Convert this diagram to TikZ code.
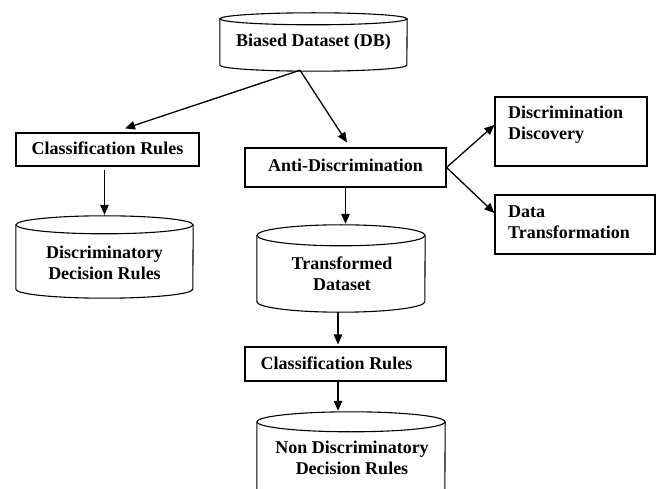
\documentclass[tikz,border=0pt]{standalone}
\usepackage{fontspec}
\setmainfont{Liberation Serif}
\usetikzlibrary{arrows.meta}
\tikzset{
  x=1pt,y=1pt,
  shapeline/.style={draw=black,line width=1.1pt},
  boxnode/.style={shapeline,rectangle,inner sep=0pt,font=\bfseries\fontsize{18}{20.5}\selectfont},
  cylnode/.style={rectangle,draw=none,inner sep=0pt},
  txt/.style={inner sep=0pt,font=\bfseries\fontsize{18}{20.5}\selectfont},
  arr/.style={draw=black,line width=1.3pt,-{Triangle[length=10pt,width=8.5pt]}}
}
\newcommand\drawcyl[3]{%
  \draw[shapeline,fill=white] ([yshift=-#3]#1.north west) -- ([yshift=#3]#1.south west)
    arc[start angle=180,end angle=360,x radius=#2,y radius=#3]
    -- ([yshift=-#3]#1.north east);
  \draw[shapeline] ([yshift=-#3]#1.north) ellipse[x radius=#2,y radius=#3];
}
\begin{document}
\begin{tikzpicture}
\useasboundingbox (0,0) rectangle (659,488);
\clip (0,0) rectangle (659,488);
% cylinders (outline nodes)
\node[cylnode,minimum width=187pt,minimum height=58pt] (bd) at (313.5,446) {};
\node[cylnode,minimum width=177pt,minimum height=82pt] (ddr) at (104.5,231) {};
\node[cylnode,minimum width=168pt,minimum height=87pt] (td) at (341,219.5) {};
\node[cylnode,minimum width=188pt,minimum height=98pt] (ndr) at (351,27) {};
\drawcyl{bd}{93.5pt}{6pt}
\drawcyl{ddr}{88.5pt}{9pt}
\drawcyl{td}{84pt}{10.5pt}
\drawcyl{ndr}{94pt}{10pt}
% cylinder texts
\node[txt] (bdt) at (313.5,446) {Biased Dataset (DB)};
\node[txt,align=center] (ddrt) at (104.5,225) {Discriminatory\\Decision Rules};
\node[txt,align=center] (tdt) at (342,214) {Transformed\\Dataset};
\node[txt,align=center] (ndrt) at (352,30) {Non Discriminatory\\Decision Rules};
% boxes
\node[boxnode,minimum width=183pt,minimum height=33pt] (cr1) at (107.5,338.5) {};
\node[txt] (cr1t) at (107.5,340) {Classification Rules};
\node[boxnode,minimum width=201pt,minimum height=39pt] (ad) at (345.5,320.5) {};
\node[txt] (adt) at (345.5,323) {Anti-Discrimination};
\node[boxnode,minimum width=152pt,minimum height=69pt] (dd) at (571,356.5) {};
\node[txt,align=left,anchor=west] (ddt) at (508,363.5) {Discrimination\\Discovery};
\node[boxnode,minimum width=160pt,minimum height=59pt] (dt) at (575,263.5) {};
\node[txt,align=left,anchor=west] (dtt) at (508,266) {Data\\Transformation};
\node[boxnode,minimum width=201pt,minimum height=34pt] (cr2) at (345.5,124) {};
\node[txt] (cr2t) at (336.5,125) {Classification Rules};
% connectors
\coordinate (bdo) at ([xshift=-13.5pt,yshift=1pt]bd.south);
\draw[arr] (bdo) -- ([xshift=17.5pt,yshift=4pt]cr1.north);
\draw[arr] (bdo) -- ([xshift=1.5pt,yshift=5pt]ad.north);
\draw[arr] ([yshift=-3pt]cr1.south -| ddr.north) -- ([yshift=1pt]ddr.north);
\draw[arr] (ad.east) -- ([yshift=6.5pt]dd.west);
\draw[arr] (ad.east) -- ([yshift=11.5pt]dt.west);
\draw[arr] (ad.south) -- ([yshift=1pt]ad.south |- td.north);
\draw[arr] ([xshift=-3pt]td.south) -- ([xshift=-3pt,yshift=2pt]td.south |- cr2.north);
\draw[arr] ([xshift=-7.5pt]cr2.south) -- ([xshift=-7.5pt,yshift=1pt]cr2.south |- ndr.north);
\end{tikzpicture}
\end{document}
